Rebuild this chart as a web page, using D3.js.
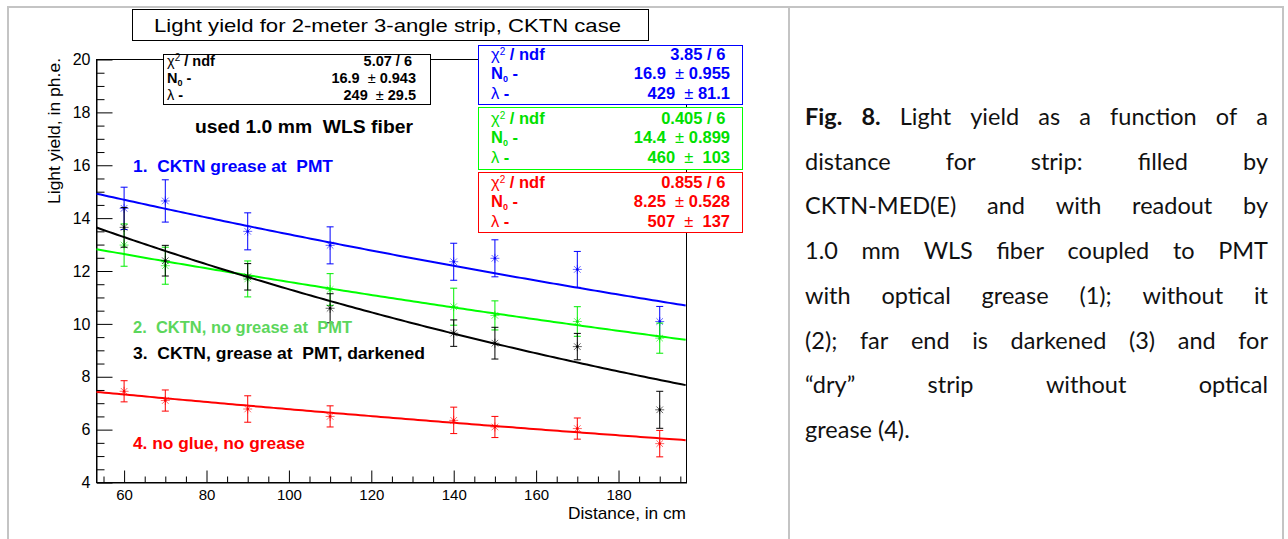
<!DOCTYPE html>
<html>
<head>
<meta charset="utf-8">
<script src="https://cdn.jsdelivr.net/npm/d3@7"></script>
<style>
  body { margin: 0; background: #fff; }
  svg text { font-family: "Liberation Sans", Arial, sans-serif; white-space: pre; }
  svg text.caption { font-family: Lato, "Open Sans", sans-serif; }
</style>
</head>
<body>
<div id="chart"></div>
<script>
// Distances where the strip was measured (cm)
const distances = [60, 70, 90, 110, 140, 150, 170, 190];

// Light yield (ph.e.) and errors per configuration
const yieldGrease = [14.37, 14.65, 13.5, 12.97, 12.35, 12.48, 12.06, 10.09];
const errGrease = [0.8, 0.8, 0.7, 0.7, 0.7, 0.7, 0.68, 0.57];
const yieldNoGrease = [12.98, 12.2, 11.7, 11.3, 10.65, 10.32, 10.09, 9.46];
const errNoGrease = [0.8, 0.7, 0.68, 0.6, 0.7, 0.55, 0.56, 0.57];
const yieldDarkened = [13.65, 12.39, 11.78, 10.59, 9.65, 9.27, 9.14, 6.75];
const errDarkened = [0.75, 0.58, 0.5, 0.55, 0.5, 0.6, 0.5, 0.7];
const yieldDry = [7.45, 7.1, 6.78, 6.5, 6.35, 6.1, 6.04, 5.47];
const errDry = [0.4, 0.4, 0.5, 0.4, 0.5, 0.4, 0.4, 0.5];

// Exponential fit parameters N0 * exp(-x / lambda), as shown in the stat boxes
const fitN0 = { grease: 16.9, noGrease: 14.4, darkened: 16.9, dry: 8.25 };
const fitLambda = { grease: 429, noGrease: 460, darkened: 249, dry: 507 };

// Stat box texts (black, blue, green, red)
const statChi2 = ["5.07 / 6", "3.85 / 6", "0.405 / 6", "0.855 / 6"];
const statN0 = ["16.9 \u00b1 0.943", "16.9 \u00b1 0.955", "14.4 \u00b1 0.899", "8.25 \u00b1 0.528"];
const statLambda = ["249 \u00b1 29.5", "429 \u00b1 81.1", "460 \u00b1  103", "507 \u00b1  137"];

// Axis ticks
const yTicks = [4, 6, 8, 10, 12, 14, 16, 18, 20];
const xTicks = [60, 80, 100, 120, 140, 160, 180];

const titleText = "Light yield for 2-meter 3-angle strip, CKTN case";
const legendLabels = ["1.  CKTN grease at  PMT", "2.  CKTN, no grease at  PMT",
                      "3.  CKTN, grease at  PMT, darkened", "4. no glue, no grease"];
const captionLines = [
  "Fig. 8. Light yield as a function of a",
  "distance for strip: filled by",
  "CKTN-MED(E) and with readout by",
  "1.0 mm WLS fiber coupled to PMT",
  "with optical grease (1); without it",
  "(2); far end is darkened (3) and for",
  "\u201cdry\u201d strip without optical",
  "grease (4)."
];

const svg = d3.select("#chart").append("svg")
    .attr("width", 1288)
    .attr("height", 539);

svg.append("rect").attr("width", 1288).attr("height", 539).attr("fill", "#fff");

// Table borders of the page
const border = svg.append("g").attr("stroke", "#c4c4c4").attr("stroke-width", 2);
border.append("line").attr("x1", 7).attr("x2", 1284).attr("y1", 7).attr("y2", 7);
border.append("line").attr("x1", 8).attr("x2", 8).attr("y1", 6).attr("y2", 539);
border.append("line").attr("x1", 789).attr("x2", 789).attr("y1", 6).attr("y2", 539);
border.append("line").attr("x1", 1283).attr("x2", 1283).attr("y1", 6).attr("y2", 539);

// Scales
const x = d3.scaleLinear().domain([53.3, 196.5]).range([96.5, 686.5]);
const y = d3.scaleLinear().domain([4, 20]).range([482.5, 59.5]);

// Frame
svg.append("rect")
    .attr("x", x.range()[0]).attr("y", y.range()[1])
    .attr("width", x.range()[1] - x.range()[0])
    .attr("height", y.range()[0] - y.range()[1])
    .attr("fill", "none").attr("stroke", "#000");

// Axes (ticks pointing inside, ROOT style)
const yMinor = d3.range(4.5, 20, 0.5).filter(v => v % 2 !== 0);
const xMinor = d3.range(55, 197, 5).filter(v => v % 20 !== 0);

svg.append("g")
    .attr("transform", `translate(${x.range()[0]},0)`)
    .call(d3.axisLeft(y).tickValues(yMinor).tickSizeInner(-8).tickSizeOuter(0).tickFormat(""))
    .call(g => g.select(".domain").remove());
svg.append("g")
    .attr("transform", `translate(${x.range()[0]},0)`)
    .call(d3.axisLeft(y).tickValues(yTicks).tickSizeInner(-16).tickSizeOuter(0).tickPadding(6))
    .call(g => g.selectAll("text").style("font-size", "16px").attr("fill", "#000"));

svg.append("g")
    .attr("transform", `translate(0,${y.range()[0]})`)
    .call(d3.axisBottom(x).tickValues(xMinor).tickSizeInner(-6).tickSizeOuter(0).tickFormat(""))
    .call(g => g.select(".domain").remove());
svg.append("g")
    .attr("transform", `translate(0,${y.range()[0]})`)
    .call(d3.axisBottom(x).tickValues(xTicks).tickSizeInner(-12).tickSizeOuter(0).tickPadding(7))
    .call(g => g.selectAll("text").style("font-size", "15px").attr("fill", "#000"));

// Axis titles
svg.append("text")
    .attr("transform", "translate(60,58) rotate(-90)")
    .attr("text-anchor", "end")
    .attr("textLength", 146).attr("lengthAdjust", "spacingAndGlyphs")
    .style("font-size", "17px")
    .text("Light yield, in ph.e.");

svg.append("text")
    .attr("x", 686).attr("y", 519)
    .attr("text-anchor", "end")
    .attr("textLength", 118).attr("lengthAdjust", "spacingAndGlyphs")
    .style("font-size", "17px")
    .text("Distance, in cm");

// Series
const series = [
  { values: yieldGrease, errors: errGrease, fit: "grease", color: "#0000ff" },
  { values: yieldNoGrease, errors: errNoGrease, fit: "noGrease", color: "#00ee00" },
  { values: yieldDarkened, errors: errDarkened, fit: "darkened", color: "#000000" },
  { values: yieldDry, errors: errDry, fit: "dry", color: "#ff0000" }
];

const line = d3.line().x(d => x(d[0])).y(d => y(d[1]));
const fitGrid = d3.range(x.domain()[0], x.domain()[1] + 0.01, 1);

series.forEach(s => {
  const g = svg.append("g");
  const pts = distances.map((d, i) => ({ d, v: s.values[i], e: s.errors[i] }));

  // fit curve
  const n0 = fitN0[s.fit], lam = fitLambda[s.fit];
  g.append("path")
      .datum(fitGrid.map(xv => [xv, n0 * Math.exp(-xv / lam)]))
      .attr("d", line)
      .attr("fill", "none")
      .attr("stroke", s.color === "#00ee00" ? "#00ff00" : s.color)
      .attr("stroke-width", 2);

  // error bars
  const eb = g.selectAll(".eb").data(pts).enter().append("g")
      .attr("stroke", s.color).attr("stroke-width", 1);
  eb.append("line")
      .attr("x1", p => x(p.d)).attr("x2", p => x(p.d))
      .attr("y1", p => y(p.v - p.e)).attr("y2", p => y(p.v + p.e));
  [-1, 1].forEach(k => {
    eb.append("line")
        .attr("x1", p => x(p.d) - 3.5).attr("x2", p => x(p.d) + 3.5)
        .attr("y1", p => y(p.v + k * p.e)).attr("y2", p => y(p.v + k * p.e));
  });

  // asterisk markers
  const mk = g.selectAll(".mk").data(pts).enter().append("g")
      .attr("transform", p => `translate(${x(p.d)},${y(p.v)})`)
      .attr("stroke", s.color).attr("stroke-width", 1).attr("stroke-opacity", 0.6);
  mk.append("line").attr("x1", -4.5).attr("x2", 4.5).attr("y1", 0).attr("y2", 0);
  mk.append("line").attr("x1", 0).attr("x2", 0).attr("y1", -4.5).attr("y2", 4.5);
  mk.append("line").attr("x1", -3.3).attr("x2", 3.3).attr("y1", -3.3).attr("y2", 3.3);
  mk.append("line").attr("x1", -3.3).attr("x2", 3.3).attr("y1", 3.3).attr("y2", -3.3);
  mk.append("circle").attr("r", 1.2).attr("fill", s.color).attr("stroke", "none");
});

// In-plot labels
svg.append("text")
    .attr("x", 195).attr("y", 133)
    .attr("textLength", 218).attr("lengthAdjust", "spacingAndGlyphs")
    .style("font-size", "17.5px").style("font-weight", "bold")
    .text("used 1.0 mm  WLS fiber");

const legendLayout = [
  { y: 172, w: 200, color: "#0000ff" },
  { y: 333, w: 219, color: "#5cd65c" },
  { y: 359, w: 292, color: "#000000" },
  { y: 449, w: 172, color: "#ff0000" }
];
legendLabels.forEach((t, i) => {
  svg.append("text")
      .attr("x", 133).attr("y", legendLayout[i].y)
      .attr("textLength", legendLayout[i].w).attr("lengthAdjust", "spacingAndGlyphs")
      .attr("fill", legendLayout[i].color)
      .style("font-size", "17px").style("font-weight", "bold")
      .text(t);
});

// Stat boxes
const boxLayout = [
  { x: 163.5, y: 54.5, w: 267, h: 50, lx: 167, vx: 416, rows: [66, 83, 100], font: 14.5, color: "#000000", stroke: "#000000" },
  { x: 478.5, y: 45.5, w: 264, h: 59, lx: 491, vx: 730, rows: [60, 79, 99], font: 16.5, color: "#0000ff", stroke: "#0000ff" },
  { x: 478.5, y: 107.5, w: 264, h: 62, lx: 491, vx: 730, rows: [124, 143, 163], font: 16.5, color: "#00e000", stroke: "#00ff00" },
  { x: 478.5, y: 172.5, w: 264, h: 60, lx: 491, vx: 730, rows: [188, 207, 227], font: 16.5, color: "#ff0000", stroke: "#ff0000" }
];

boxLayout.forEach((b, i) => {
  const g = svg.append("g").attr("fill", b.color).style("font-size", `${b.font}px`);
  g.append("rect")
      .attr("x", b.x).attr("y", b.y).attr("width", b.w).attr("height", b.h)
      .attr("fill", "#fff").attr("stroke", b.stroke);

  const l0 = g.append("text").attr("x", b.lx).attr("y", b.rows[0]);
  l0.append("tspan").text("\u03c7");
  l0.append("tspan").attr("dy", -5).style("font-size", "10px").text("2");
  l0.append("tspan").attr("dy", 5).style("font-weight", "bold").text(" / ndf");

  const l1 = g.append("text").attr("x", b.lx).attr("y", b.rows[1]).style("font-weight", "bold");
  l1.append("tspan").text("N");
  l1.append("tspan").attr("dy", 3).style("font-size", "9px").text("0");
  l1.append("tspan").attr("dy", -3).text(" -");

  const l2 = g.append("text").attr("x", b.lx).attr("y", b.rows[2]);
  l2.append("tspan").text("\u03bb");
  l2.append("tspan").style("font-weight", "bold").text(" -");

  [statChi2[i], statN0[i], statLambda[i]].forEach((v, r) => {
    const t = g.append("text").attr("x", b.vx).attr("y", b.rows[r])
        .attr("text-anchor", "end").style("font-weight", "bold");
    const parts = v.split("\u00b1");
    t.append("tspan").text(parts[0] + " ");
    if (parts.length > 1) {
      t.append("tspan").style("font-weight", "normal").text("\u00b1");
      t.append("tspan").text(parts[1]);
    }
  });
});

// Title box
svg.append("rect")
    .attr("x", 132.5).attr("y", 9.5).attr("width", 516).attr("height", 31)
    .attr("fill", "#fff").attr("stroke", "#000");
svg.append("text")
    .attr("x", 154).attr("y", 32)
    .attr("textLength", 467).attr("lengthAdjust", "spacingAndGlyphs")
    .style("font-size", "19px")
    .text(titleText);

// Caption, justified like the page text
const cap = svg.append("g").attr("fill", "#111");
const capLeft = 805, capRight = 1268, capTop = 125, capStep = 44.7;

captionLines.forEach((ln, li) => {
  const words = ln.split(" ");
  const ws = words.map((w, wi) => {
    const bold = li === 0 && wi < 2;
    const t = cap.append("text")
        .attr("class", "caption")
        .attr("y", capTop + li * capStep)
        .style("font-size", "23.5px")
        .style("font-weight", bold ? "bold" : "normal")
        .text(w);
    return { t, w: t.node().getComputedTextLength() };
  });
  const total = d3.sum(ws, d => d.w);
  const last = li === captionLines.length - 1;
  const gap = last ? 6 : (capRight - capLeft - total) / (ws.length - 1);
  let cx = capLeft;
  ws.forEach(d => {
    d.t.attr("x", cx);
    cx += d.w + gap;
  });
});
</script>
</body>
</html>
